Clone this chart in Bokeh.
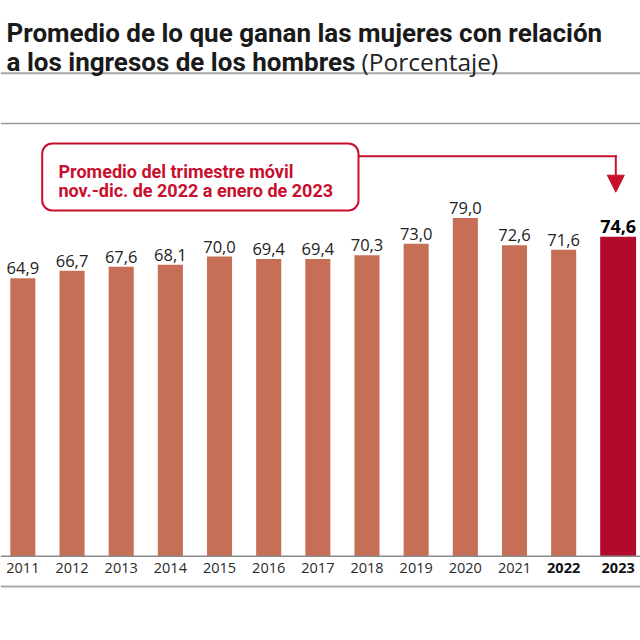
from bokeh.plotting import figure
from bokeh.models import FactorRange, Range1d, Span, Label, BoxAnnotation, Arrow, NormalHead, ColumnDataSource
from bokeh.core.properties import value
from bokeh.embed import file_html
from bokeh.resources import INLINE

# ---- data ----
years = ["2011", "2012", "2013", "2014", "2015", "2016", "2017",
         "2018", "2019", "2020", "2021", "2022", "2023"]
ratios = [64.9, 66.7, 67.6, 68.1, 70.0, 69.4, 69.4, 70.3, 73.0, 79.0, 72.6, 71.6, 74.6]
period = ["anual"] * 12 + ["movil"]          # 2023 = rolling quarter
bold_years = ["2022", "2023"]

title_1 = "Promedio de lo que ganan las mujeres con relación"
title_2 = "a los ingresos de los hombres"
title_unit = "(Porcentaje)"
note_1 = "Promedio del trimestre móvil"
note_2 = "nov.-dic. de 2022 a enero de 2023"

# ---- styles ----
BAR = "#C76E56"
BAR_HI = "#B10A2D"
RED = "#C8102E"
INK = "#1a1a1a"
HEAD = "Roboto"

factors = [(g, y) for g, y in zip(period, years)]
src = ColumnDataSource(dict(
    x=factors,
    ratio=ratios,
    label=[f"{v:.1f}".replace(".", ",") for v in ratios],
    color=[BAR_HI if g == "movil" else BAR for g in period],
    w=[0.73 if g == "movil" else 0.51 for g in period],
    vstyle=["bold" if g == "movil" else "normal" for g in period],
    vsize=["18px" if g == "movil" else "16.5px" for g in period],
    vcolor=["#000000" if g == "movil" else "#222222" for g in period],
))
ysrc = ColumnDataSource(dict(
    x=factors, yr=years,
    ystyle=["bold" if y in bold_years else "normal" for y in years],
    ycolor=["#111111" if y in bold_years else "#2a2a2a" for y in years],
))

W, H = 640, 640
p = figure(width=W, height=H, output_backend="svg", toolbar_location=None,
           x_range=FactorRange(*factors, group_padding=0.108, range_padding=-0.045,
                               range_padding_units="absolute"),
           y_range=Range1d(-19.7, 129.8),
           x_axis_location=None, y_axis_location=None,
           min_border=0, outline_line_color=None, background_fill_color="white")
p.grid.visible = False

p.vbar(x="x", top="ratio", bottom=0, width="w", fill_color="color", line_color=None, source=src)

p.text(x="x", y="ratio", text="label", source=src, text_align="center",
       text_baseline="bottom", y_offset=-4, text_font=value("Open Sans"),
       text_font_size="vsize", text_font_style="vstyle", text_color="vcolor")

p.text(x="x", y=0, text="yr", source=ysrc,
       text_align="center", text_baseline="middle", y_offset=12,
       text_font=value("Open Sans"), text_font_size="14.5px",
       text_font_style="ystyle", text_color="ycolor")

# baseline and rules
p.add_layout(Span(location=0, dimension="width", line_color="#8a8a8a", line_width=1.5))
for loc, col, lw in [(567.3, "#a8a8a8", 2), (517, "#9a9a9a", 1.5), (54, "#a8a8a8", 2)]:
    p.add_layout(Span(location=loc, location_units="screen", dimension="width",
                      line_color=col, line_width=lw))

# title
p.add_layout(Label(x=6, y=608, x_units="screen", y_units="screen", text=title_1,
                   text_font=HEAD, text_font_size="26px", text_font_style="bold",
                   text_color=INK, text_baseline="alphabetic"))
p.add_layout(Label(x=6, y=579, x_units="screen", y_units="screen", text=title_2,
                   text_font=HEAD, text_font_size="26px", text_font_style="bold",
                   text_color=INK, text_baseline="alphabetic"))
p.add_layout(Label(x=361, y=579, x_units="screen", y_units="screen", text=title_unit,
                   text_font="Open Sans", text_font_size="24.5px", text_font_style="normal",
                   text_color="#222222", text_baseline="alphabetic"))

# callout
p.add_layout(BoxAnnotation(left=41.7, right=358, top=497, bottom=430,
                           left_units="screen", right_units="screen",
                           top_units="screen", bottom_units="screen",
                           fill_color="white", fill_alpha=1, line_color=RED,
                           line_alpha=1, line_width=2, border_radius=10))
p.add_layout(Label(x=58, y=469.3, x_units="screen", y_units="screen", text=note_1,
                   text_font=HEAD, text_font_size="18px", text_font_style="bold",
                   text_color=RED, text_baseline="alphabetic"))
p.add_layout(Label(x=58, y=450, x_units="screen", y_units="screen", text=note_2,
                   text_font=HEAD, text_font_size="18px", text_font_style="bold",
                   text_color=RED, text_baseline="alphabetic"))
p.add_layout(Arrow(x_start=358, y_start=484.3, x_end=616.3, y_end=484.3,
                   start_units="screen", end_units="screen", end=None,
                   line_color=RED, line_width=2))
p.add_layout(Arrow(x_start=615.3, y_start=485.3, x_end=615.3, y_end=448.3,
                   start_units="screen", end_units="screen",
                   end=NormalHead(size=17, fill_color=RED, line_color=RED),
                   line_color=RED, line_width=2))

open("out.html", "w").write(file_html(p, INLINE))
